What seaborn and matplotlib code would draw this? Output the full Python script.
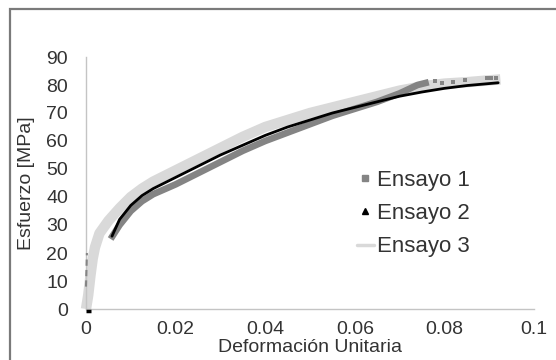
import matplotlib
matplotlib.use("Agg")
import matplotlib.pyplot as plt
from matplotlib.lines import Line2D
from matplotlib.patches import Rectangle
import seaborn as sns
import pandas as pd

# ---- data ----
e1_start_x = [0.0, 0.0002]
e1_start_y = [8, 20]
e1_x = [0.0055, 0.0075, 0.01, 0.0125, 0.015, 0.02, 0.025, 0.03, 0.035, 0.04,
        0.045, 0.05, 0.055, 0.06, 0.065, 0.07, 0.074, 0.0765]
e1_y = [25, 30, 35, 38.5, 41, 44.5, 48.5, 52.5, 56.5, 60,
        63, 66, 69, 71.5, 74, 77, 80, 81]
e1_dots_x = [0.0745, 0.078, 0.0795, 0.082, 0.0845, 0.0895, 0.0905, 0.0915]
e1_dots_y = [80.3, 81.5, 80.6, 81.0, 81.8, 82.6, 82.6, 82.6]

e2_start_x = [0.0, 0.0012]
e2_start_y = [-0.6, -0.6]
e2_x = [0.0058, 0.0075, 0.01, 0.0125, 0.015, 0.02, 0.025, 0.03, 0.035, 0.04,
        0.045, 0.05, 0.055, 0.06, 0.065, 0.07, 0.075, 0.08, 0.085, 0.092]
e2_y = [26, 32, 37, 40.5, 43, 47, 51, 55, 58.5, 62,
        65, 67.5, 70, 72, 74, 76, 77.5, 78.8, 79.8, 80.8]

e3_x = [0.0, 0.0005, 0.001, 0.0015, 0.002, 0.003, 0.005, 0.0075, 0.01, 0.0125,
        0.015, 0.02, 0.025, 0.03, 0.035, 0.04, 0.045, 0.05, 0.055, 0.06,
        0.065, 0.07, 0.075, 0.08, 0.085, 0.0925]
e3_y = [0, 5, 12, 18, 22, 27, 31.5, 36, 40, 43,
        45.5, 49.5, 53.5, 57.5, 61.5, 65, 67.5, 70, 72, 74,
        76, 78, 79.5, 80.5, 81, 82]

series_names = ["Ensayo 1", "Ensayo 2", "Ensayo 3"]
x_ticks = [0, 0.02, 0.04, 0.06, 0.08, 0.1]
x_tick_labels = ["0", "0.02", "0.04", "0.06", "0.08", "0.1"]
y_ticks = [0, 10, 20, 30, 40, 50, 60, 70, 80, 90]
x_label = "Deformación Unitaria"
y_label = "Esfuerzo [MPa]"

# ---- style ----
sns.set_theme(style="white")
plt.rcParams["font.family"] = ["Liberation Sans", "DejaVu Sans"]

C1, C2, C3 = "#848484", "#000000", "#d9d9d9"
TXT = "#333333"

fig = plt.figure(figsize=(5.56, 3.6), dpi=100)
ax = fig.add_axes([86 / 556, 1 - 309 / 360, 448 / 556, 252 / 360])

# outer frame (top/left visible)
fig.patches.append(Rectangle((9.5 / 556, -0.2), 1.2, 1 - 9 / 360 + 0.2,
                             transform=fig.transFigure, fill=False,
                             edgecolor="#7a7a7a", linewidth=1.6, zorder=0))

# Ensayo 3 (bottom)
d3 = pd.DataFrame({"x": e3_x, "y": e3_y})
sns.lineplot(data=d3, x="x", y="y", ax=ax, color=C3, linewidth=7.5,
             sort=False, estimator=None, clip_on=False, zorder=2,
             solid_capstyle="butt")

# Ensayo 1
d1s = pd.DataFrame({"x": e1_start_x, "y": e1_start_y})
sns.lineplot(data=d1s, x="x", y="y", ax=ax, color=C1, linewidth=1.5,
             sort=False, estimator=None, clip_on=False, zorder=3,
             linestyle=(0, (3, 2)))
d1 = pd.DataFrame({"x": e1_x, "y": e1_y})
sns.lineplot(data=d1, x="x", y="y", ax=ax, color=C1, linewidth=4.8,
             sort=False, estimator=None, clip_on=False, zorder=3,
             solid_capstyle="butt")
d1d = pd.DataFrame({"x": e1_dots_x, "y": e1_dots_y})
sns.scatterplot(data=d1d, x="x", y="y", ax=ax, color=C1, marker="s", s=5,
                linewidth=0, zorder=3, clip_on=False)

# Ensayo 2 (top)
d2s = pd.DataFrame({"x": e2_start_x, "y": e2_start_y})
sns.lineplot(data=d2s, x="x", y="y", ax=ax, color=C2, linewidth=2.5,
             sort=False, estimator=None, clip_on=False, zorder=4,
             solid_capstyle="butt")
d2 = pd.DataFrame({"x": e2_x, "y": e2_y})
sns.lineplot(data=d2, x="x", y="y", ax=ax, color=C2, linewidth=2.0,
             sort=False, estimator=None, clip_on=False, zorder=4)

ax.set_xlim(0, 0.1)
ax.set_ylim(0, 90)
ax.set_xticks(x_ticks)
ax.set_xticklabels(x_tick_labels)
ax.set_yticks(y_ticks)
ax.tick_params(axis="both", length=0, labelsize=14, colors=TXT)
ax.tick_params(axis="x", pad=8.5)
ax.tick_params(axis="y", pad=13)

for s in ["top", "right"]:
    ax.spines[s].set_visible(False)
for s in ["left", "bottom"]:
    ax.spines[s].set_color("#c4c4c4")
    ax.spines[s].set_linewidth(1.0)

ax.set_xlabel(x_label, fontsize=14, color=TXT, labelpad=0.5)
ax.set_ylabel(y_label, fontsize=14, color=TXT, labelpad=8)

handles = [
    Line2D([], [], color=C1, marker="s", linestyle="none", markersize=4.5),
    Line2D([], [], color=C2, marker="^", linestyle="none", markersize=5),
    Line2D([], [], color=C3, linewidth=2.5),
]
fig.legend(handles, series_names, loc="upper left",
           bbox_to_anchor=(357 / 556, 1 - 170 / 360),
           frameon=False, fontsize=16, handlelength=0.75, handletextpad=0.15,
           labelspacing=0.55, borderpad=0, borderaxespad=0,
           labelcolor=TXT)

fig.savefig("out.png", dpi=100)
